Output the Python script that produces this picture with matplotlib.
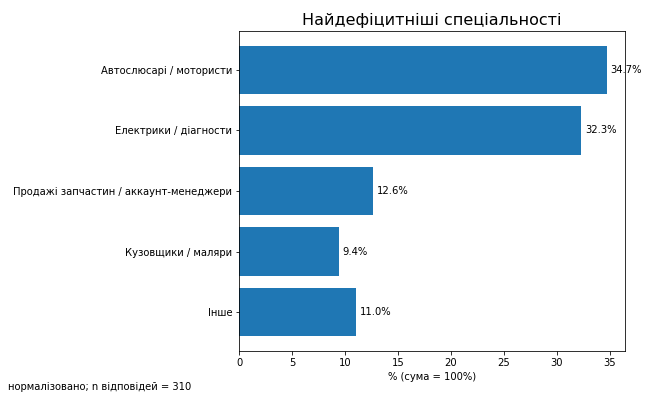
import matplotlib
matplotlib.use("Agg")
import matplotlib.pyplot as plt

# categories and shares (%)
categories = ["Автослюсарі / мотористи", "Електрики / діагности",
              "Продажі запчастин / аккаунт-менеджери", "Кузовщики / маляри", "Інше"]
shares = [34.7, 32.3, 12.6, 9.4, 11.0]

fig, ax = plt.subplots(figsize=(650 / 72, 398 / 72), dpi=72)
fig.subplots_adjust(left=0.368, right=0.9615, top=0.922, bottom=0.118)

bars = ax.barh(categories, shares, color="#1f77b4")
ax.invert_yaxis()
ax.bar_label(bars, fmt="%.1f%%", padding=4)

ax.set_title("Найдефіцитніші спеціальності", fontsize=16)
ax.set_xlabel("% (сума = 100%)")

fig.text(0.012, 0.02, "нормалізовано; n відповідей = 310")

fig.savefig("out.png", dpi=72)
